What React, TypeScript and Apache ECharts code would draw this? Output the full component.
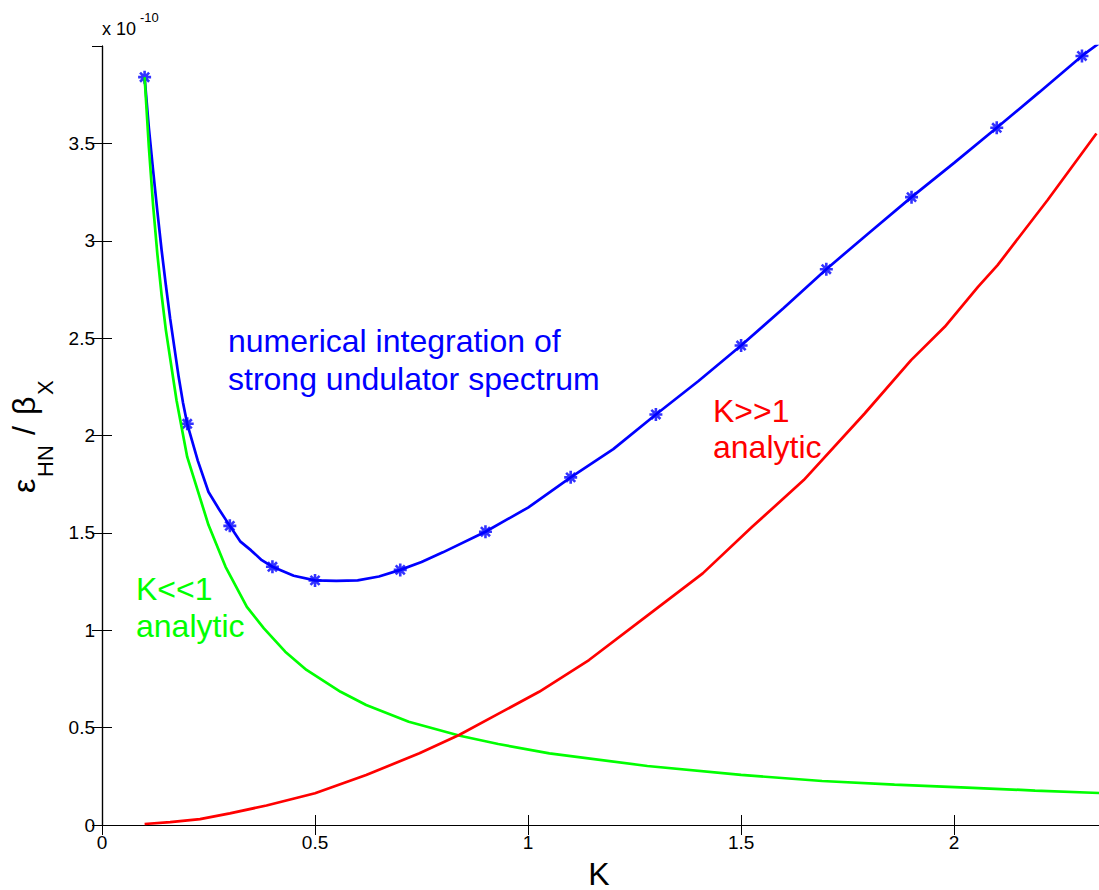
import React, { useEffect, useRef } from "react";
import * as echarts from "echarts";

// Numerical integration of the strong undulator spectrum (solid line)
const blueK = [0.1, 0.11, 0.12, 0.13, 0.14, 0.15, 0.16, 0.17, 0.18, 0.19, 0.2, 0.225, 0.25, 0.275, 0.3, 0.325, 0.35, 0.375, 0.4, 0.45, 0.5, 0.55, 0.6, 0.65, 0.7, 0.75, 0.8, 0.9, 1.0, 1.1, 1.2, 1.3, 1.4, 1.5, 1.6, 1.7, 1.8, 1.9, 2.0, 2.1, 2.2, 2.3, 2.35];
const blueV = [3.84, 3.58, 3.36, 3.15, 2.95, 2.77, 2.6, 2.45, 2.3, 2.17, 2.06, 1.87, 1.71, 1.62, 1.536, 1.455, 1.41, 1.36, 1.326, 1.28, 1.256, 1.254, 1.256, 1.276, 1.31, 1.35, 1.4, 1.506, 1.63, 1.785, 1.93, 2.108, 2.28, 2.462, 2.655, 2.854, 3.04, 3.224, 3.4, 3.58, 3.763, 3.949, 4.03];

// Sample points marked with asterisks
const markerK = [0.1, 0.2, 0.3, 0.4, 0.5, 0.7, 0.9, 1.1, 1.3, 1.5, 1.7, 1.9, 2.1, 2.3];
const markerV = [3.84, 2.06, 1.536, 1.326, 1.256, 1.31, 1.506, 1.785, 2.108, 2.462, 2.854, 3.224, 3.58, 3.949];

// K<<1 analytic approximation
const greenK = [0.1, 0.11, 0.12, 0.13, 0.14, 0.15, 0.175, 0.2, 0.25, 0.29, 0.34, 0.38, 0.43, 0.48, 0.56, 0.62, 0.72, 0.84, 0.93, 1.05, 1.28, 1.5, 1.69, 1.86, 2.03, 2.19, 2.345];
const greenV = [3.84, 3.48, 3.18, 2.93, 2.72, 2.54, 2.18, 1.89, 1.54, 1.326, 1.12, 1.01, 0.89, 0.796, 0.684, 0.616, 0.53, 0.458, 0.416, 0.368, 0.303, 0.257, 0.226, 0.207, 0.192, 0.177, 0.164];

// K>>1 analytic approximation
const redK = [0.1, 0.16, 0.23, 0.3, 0.386, 0.5, 0.62, 0.745, 0.838, 0.932, 1.026, 1.143, 1.276, 1.41, 1.526, 1.647, 1.79, 1.899, 1.978, 2.056, 2.102, 2.219, 2.334];
const redV = [0.005, 0.015, 0.03, 0.06, 0.1, 0.163, 0.257, 0.368, 0.462, 0.573, 0.684, 0.847, 1.069, 1.292, 1.531, 1.771, 2.113, 2.387, 2.558, 2.763, 2.875, 3.208, 3.551];

const X_MIN = 0;
const X_MAX = 2.34;
const Y_MIN = 0;
const Y_MAX = 4;
const TICK_STEP = 0.5;

const FONT = '"Liberation Sans", Arial, Helvetica, sans-serif';

const pairs = (ks: number[], vs: number[]) => ks.map((k, i) => [k, vs[i]]);

const txt = (
  text: string,
  x: number,
  y: number,
  size: number,
  fill: string,
  align: string = "left"
) => ({
  type: "text",
  x,
  y,
  silent: true,
  style: {
    text,
    fontSize: size,
    fontFamily: FONT,
    fill,
    align,
    textAlign: align,
    verticalAlign: "middle",
    textVerticalAlign: "middle",
  },
});

export default function App() {
  const ref = useRef<HTMLDivElement>(null);

  useEffect(() => {
    if (!ref.current) return;
    const chart = echarts.init(ref.current, null, { renderer: "svg" });

    const tickStyle = { show: true, inside: true, length: 10, lineStyle: { color: "#000", width: 1 } };
    const lineStyle = { show: true, lineStyle: { color: "#000", width: 1.2 } };
    const labelStyle = { color: "#000", fontSize: 19, fontFamily: FONT, showMaxLabel: false };

    chart.setOption({
      animation: false,
      backgroundColor: "#fff",
      grid: { left: 102, top: 46, right: -3, bottom: 65, containLabel: false },
      xAxis: [
        {
          type: "value",
          min: X_MIN,
          max: X_MAX,
          interval: TICK_STEP,
          position: "bottom",
          axisLine: lineStyle,
          axisTick: tickStyle,
          splitLine: { show: false },
          axisLabel: { ...labelStyle, margin: 8 },
        },
        {
          type: "value",
          min: X_MIN,
          max: X_MAX,
          interval: TICK_STEP,
          position: "top",
          axisLine: lineStyle,
          axisTick: tickStyle,
          splitLine: { show: false },
          axisLabel: { show: false },
        },
      ],
      yAxis: [
        {
          type: "value",
          min: Y_MIN,
          max: Y_MAX,
          interval: TICK_STEP,
          position: "left",
          axisLine: lineStyle,
          axisTick: tickStyle,
          splitLine: { show: false },
          axisLabel: { ...labelStyle, margin: 7 },
        },
        {
          type: "value",
          min: Y_MIN,
          max: Y_MAX,
          interval: TICK_STEP,
          position: "right",
          axisLine: lineStyle,
          axisTick: tickStyle,
          splitLine: { show: false },
          axisLabel: { show: false },
        },
      ],
      series: [
        {
          name: "numerical",
          type: "line",
          data: pairs(blueK, blueV),
          showSymbol: false,
          symbol: "none",
          clip: true,
          lineStyle: { color: "#0000ff", width: 2.7 },
          z: 2,
        },
        {
          name: "samples",
          type: "scatter",
          data: pairs(markerK, markerV),
          symbol: "path://M0,5 L10,5 M5,0 L5,10 M1.5,1.5 L8.5,8.5 M8.5,1.5 L1.5,8.5",
          symbolSize: 13,
          itemStyle: { color: "rgba(0,0,0,0)", borderColor: "#0000ff", borderWidth: 2.6 },
          z: 3,
        },
        {
          name: "K<<1",
          type: "line",
          data: pairs(greenK, greenV),
          showSymbol: false,
          symbol: "none",
          clip: true,
          lineStyle: { color: "#00ff00", width: 2.7 },
          z: 4,
        },
        {
          name: "K>>1",
          type: "line",
          data: pairs(redK, redV),
          showSymbol: false,
          symbol: "none",
          clip: true,
          lineStyle: { color: "#ff0000", width: 2.7 },
          z: 5,
        },
      ],
      graphic: [
        // exponent of the y axis
        txt("x 10", 102, 28.5, 18, "#000"),
        txt("-10", 140, 17.5, 13, "#000"),
        // x axis title
        txt("K", 599, 873.5, 32, "#000", "center"),
        // y axis title, rotated to read bottom to top
        {
          type: "group",
          x: 35,
          y: 493,
          rotation: Math.PI / 2,
          silent: true,
          children: [
            txt("ε", 0, -11.2, 32, "#000"),
            txt("HN", 16, 10.3, 22, "#000"),
            txt("/", 58, -11.2, 32, "#000"),
            txt("β", 78, -11.2, 32, "#000"),
            txt("X", 98, 10.3, 22, "#000"),
          ],
        },
        // curve annotations
        txt("numerical integration of", 228, 340.5, 32, "#0000ff"),
        txt("strong undulator spectrum", 228, 378.5, 32, "#0000ff"),
        txt("K>>1", 713, 410.5, 32, "#ff0000"),
        txt("analytic", 713, 447, 32, "#ff0000"),
        txt("K<<1", 136, 588.8, 32, "#00ff00"),
        txt("analytic", 136, 625.5, 32, "#00ff00"),
      ],
    });

    return () => chart.dispose();
  }, []);

  return (
    <div
      ref={ref}
      style={{ position: "absolute", left: 0, top: 0, width: 1099, height: 890, background: "#fff" }}
    />
  );
}
